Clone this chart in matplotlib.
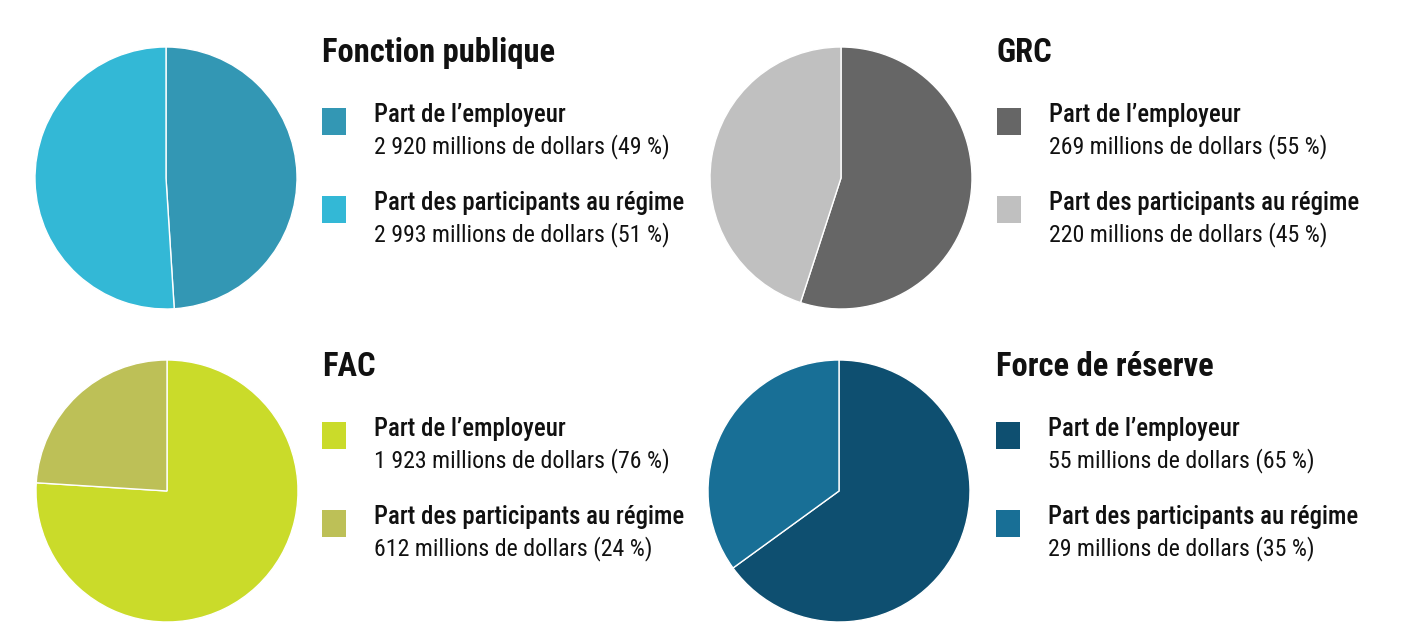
import matplotlib
matplotlib.use('Agg')
import matplotlib.pyplot as plt
from matplotlib.patches import Rectangle

plt.rcParams['font.family'] = ['Roboto Condensed', 'DejaVu Sans']

# ---------------- data ----------------
titles = ['Fonction publique', 'GRC', 'FAC', 'Force de réserve']
labels = ['Part de l\u2019employeur', 'Part des participants au régime']
employer_amt = ['2 920', '269', '1 923', '55']
members_amt = ['2 993', '220', '612', '29']
employer_pct = [49, 55, 76, 65]
members_pct = [51, 45, 24, 35]
employer_col = ['#3397b4', '#666666', '#cadb2a', '#0e4f70']
members_col = ['#33b8d6', '#c0c0c0', '#bdc057', '#186f96']

W, H = 1404, 644
fig = plt.figure(figsize=(W / 100, H / 100), dpi=100)
fig.patch.set_facecolor('white')

# pie centres and text columns in pixels
centres = [(166, 178), (841, 178), (167, 491), (839, 491)]
text_x = [322, 997, 322, 996]
title_y = [53, 53, 367, 367]
R = 131


def px(x, y):
    return x / W, 1 - y / H


for i in range(4):
    cx, cy = centres[i]
    ax = fig.add_axes([(cx - R) / W, 1 - (cy + R) / H, 2 * R / W, 2 * R / H])
    ax.pie([employer_pct[i], members_pct[i]],
           colors=[employer_col[i], members_col[i]],
           startangle=90, counterclock=False,
           wedgeprops=dict(edgecolor='white', linewidth=1))
    ax.set_xlim(-1, 1)
    ax.set_ylim(-1, 1)
    ax.set_aspect('equal')
    ax.axis('off')

    tx = text_x[i]
    ty = title_y[i]
    fig.text(*px(tx, ty), titles[i], fontsize=23.5, fontweight='bold',
             va='center', ha='left', color='#111111')

    items = [(labels[0], employer_amt[i], employer_pct[i], employer_col[i]),
             (labels[1], members_amt[i], members_pct[i], members_col[i])]
    for k, (lab, amt, pct, col) in enumerate(items):
        y0 = ty + 54 + k * 88
        sq = Rectangle(px(tx, y0 + 28), 24 / W, 27 / H,
                       transform=fig.transFigure, facecolor=col,
                       edgecolor='none')
        fig.patches.append(sq)
        fig.text(*px(tx + 52, y0 + 8), lab, fontsize=17.8, fontweight='medium',
                 va='center', ha='left', color='#111111')
        fig.text(*px(tx + 52, y0 + 40), f'{amt} millions de dollars ({pct} %)',
                 fontsize=17.2, va='center', ha='left', color='#111111')

fig.savefig('out.png', dpi=100, facecolor='white')
